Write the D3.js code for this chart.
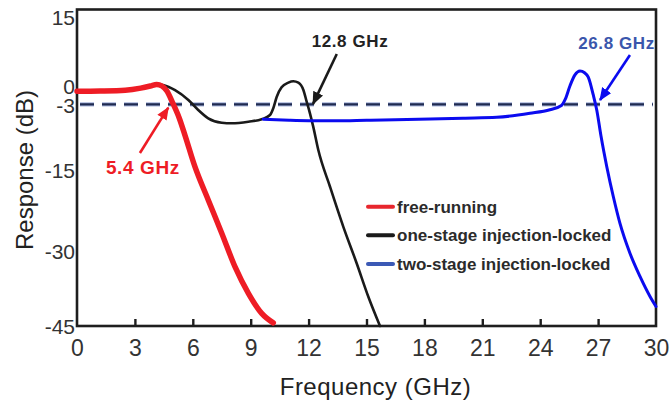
<!DOCTYPE html>
<html>
<head>
<meta charset="utf-8">
<script src="https://cdn.jsdelivr.net/npm/d3@7"></script>
<style>
  html, body { margin: 0; padding: 0; background: #fff; }
  svg { display: block; font-family: "Liberation Sans", Arial, sans-serif; }
</style>
</head>
<body>
<svg id="chart" width="671" height="403"></svg>
<script>
// ---- data ----
const freqTicks = [0, 3, 6, 9, 12, 15, 18, 21, 24, 27, 30];
const respTicks = [15, 0, -3, -15, -30, -45];
const seriesNames = ["free-running", "one-stage injection-locked", "two-stage injection-locked"];
const refLevel = -3;

// [frequency GHz, response dB]
const freeRunning = [
  [0, -0.5], [1.2, -0.45], [2.5, -0.3], [3.3, 0.1], [3.8, 0.5], [4.13, 0.8], [4.4, 0.5],
  [4.65, -0.4], [4.97, -2.8], [5.3, -5.6], [5.6, -8.9], [6.11, -14.8], [6.8, -21.1],
  [7.5, -27.4], [8.19, -33.8], [8.88, -38.8], [9.57, -42.6], [10.17, -44.4]
];
const oneStage = [
  [0, -0.5], [1.2, -0.45], [2.5, -0.3], [3.3, 0.1], [3.8, 0.5], [4.13, 0.8], [4.5, 0.65],
  [5.08, -0.3], [5.77, -2.16], [6.28, -4.05], [6.8, -5.63], [7.5, -6.46], [8.02, -6.57],
  [8.88, -6.27], [9.57, -5.8], [10.0, -5.0], [10.17, -3.73], [10.35, -1.53], [10.6, 0.25],
  [10.95, 1.13], [11.21, 1.39], [11.47, 1.13], [11.73, -0.26], [11.9, -2.48], [12.07, -4.68],
  [12.24, -7.2], [12.5, -11.6], [13.11, -18.6], [13.8, -26.2], [14.49, -33.1], [15.09, -39.4],
  [15.7, -45]
];
const twoStage = [
  [9.65, -5.82], [11, -6.0], [12, -6.08], [13.4, -6.1], [15, -6.0], [16.5, -5.9], [18.3, -5.76],
  [20, -5.6], [21.75, -5.44], [23.47, -4.68], [24.5, -4.0], [25.1, -3.2], [25.3, -2.0],
  [25.54, 0.5], [25.8, 2.6], [26.06, 3.34], [26.3, 3.0], [26.49, 2.2], [26.75, -1.2],
  [26.93, -4.05], [27.15, -9.0], [27.45, -14.8], [27.79, -20.5], [28.13, -25.5], [28.65, -31.2],
  [29.17, -35.6], [29.69, -39.4], [30, -41.3]
];
const annotationTexts = ["5.4 GHz", "12.8 GHz", "26.8 GHz"];

// ---- layout / style ----
const svg = d3.select("#chart");
const x = d3.scaleLinear().domain([0, 30]).range([77, 656]);
const y = d3.scaleLinear().domain([-45, 15]).range([326, 9.5]);
const colors = ["#ee1c25", "#1a1a1a", "#0b0bef"];
const legendColors = ["#e8262d", "#1a1a1a", "#3b59b5"];
const widths = [5.5, 2.6, 3];

// arrow markers
const defs = svg.append("defs");
const annColors = ["#ee1c25", "#1a1a1a", "#0b0bef"];
annColors.forEach((c, i) => {
  defs.append("marker")
    .attr("id", "arr" + i)
    .attr("viewBox", "0 0 12 10")
    .attr("refX", 11).attr("refY", 5)
    .attr("markerUnits", "userSpaceOnUse")
    .attr("markerWidth", 13).attr("markerHeight", 11)
    .attr("orient", "auto")
    .append("path").attr("d", "M0,0 L12,5 L0,10 Z").attr("fill", c);
});

// frame
svg.append("rect")
  .attr("x", x(0)).attr("y", y(15))
  .attr("width", x(30) - x(0)).attr("height", y(-45) - y(15))
  .attr("fill", "none").attr("stroke", "#1e1e1e").attr("stroke-width", 2.6);

// -3 dB reference dashed line
[["#a9b6dc", 4.2], ["#1f2a50", 2.2]].forEach(([c, w]) => {
  svg.append("line")
    .attr("x1", x(0) + 3).attr("x2", x(30) - 3)
    .attr("y1", y(refLevel)).attr("y2", y(refLevel))
    .attr("stroke", c).attr("stroke-width", w)
    .attr("stroke-dasharray", "14,8");
});

// curves
const line = d3.line().x(d => x(d[0])).y(d => y(d[1])).curve(d3.curveMonotoneX);
const order = [1, 2, 0];
const seriesData = [freeRunning, oneStage, twoStage];
order.forEach(i => {
  svg.append("path")
    .datum(seriesData[i])
    .attr("d", line)
    .attr("fill", "none")
    .attr("stroke", colors[i])
    .attr("stroke-width", widths[i])
    .attr("stroke-linejoin", "round")
    .attr("stroke-linecap", "round");
});

// axes
const xAxis = svg.append("g")
  .attr("transform", `translate(0,${y(-45)})`)
  .call(d3.axisBottom(x).tickValues(freqTicks).tickFormat(d => String(d))
    .tickSizeInner(-7).tickSizeOuter(0).tickPadding(14));
xAxis.select(".domain").remove();
xAxis.selectAll(".tick line").attr("stroke", "#1e1e1e").attr("stroke-width", 2.4)
  .filter(d => d === 0 || d === 30).remove();
xAxis.selectAll(".tick text")
  .attr("font-size", 23).attr("fill", "#333")
  .attr("font-family", "Liberation Sans, Arial, sans-serif");

const yLabelShift = { "15": 8, "0": -2, "-3": 0.5, "-15": 3, "-30": 4, "-45": 0 };
const yAxis = svg.append("g")
  .attr("transform", `translate(${x(0)},0)`)
  .call(d3.axisLeft(y).tickValues(respTicks).tickFormat(d => String(d)).tickSize(0).tickPadding(2));
yAxis.select(".domain").remove();
yAxis.selectAll(".tick text")
  .attr("font-size", 21).attr("fill", "#333")
  .attr("font-family", "Liberation Sans, Arial, sans-serif")
  .attr("dy", "0.34em")
  .attr("y", d => yLabelShift[String(d)] || 0);

// axis titles
svg.append("text")
  .attr("x", (x(0) + x(30)) / 2 + 9).attr("y", 395)
  .attr("text-anchor", "middle").attr("font-size", 24).attr("fill", "#222")
  .attr("letter-spacing", 0.5)
  .text("Frequency (GHz)");
svg.append("text")
  .attr("transform", `translate(33,170) rotate(-90)`)
  .attr("text-anchor", "middle").attr("font-size", 24).attr("fill", "#222")
  .text("Response (dB)");

// annotations (positions in data units)
const annotations = [
  { text: annotationTexts[0], tx: 1.5, ty: -16.24, size: 19, color: "#ee1c25", from: [3.26, -12.2], to: [4.73, -3.6] },
  { text: annotationTexts[1], tx: 12.16, ty: 7.95, size: 17, color: "#222", from: [13.46, 6.56], to: [12.23, -2.9] },
  { text: annotationTexts[2], tx: 25.97, ty: 7.45, size: 17, color: "#3a56ac", from: [28.65, 6.37], to: [27.1, -2.16] }
];
annotations.forEach((a, i) => {
  svg.append("text")
    .attr("x", x(a.tx)).attr("y", y(a.ty))
    .attr("font-size", a.size).attr("font-weight", "bold")
    .attr("letter-spacing", 0.6)
    .attr("fill", a.color)
    .text(a.text);
  svg.append("line")
    .attr("x1", x(a.from[0])).attr("y1", y(a.from[1]))
    .attr("x2", x(a.to[0])).attr("y2", y(a.to[1]))
    .attr("stroke", annColors[i]).attr("stroke-width", 2.6)
    .attr("marker-end", `url(#arr${i})`);
});

// legend
const legend = svg.append("g").attr("transform", "translate(368,206.7)");
seriesNames.forEach((name, i) => {
  const g = legend.append("g").attr("transform", `translate(0,${i * 28.6})`);
  g.append("line").attr("x1", 0).attr("x2", 25).attr("y1", 0).attr("y2", 0)
    .attr("stroke", legendColors[i]).attr("stroke-width", 4).attr("stroke-linecap", "round");
  g.append("text").attr("x", 29).attr("y", 6)
    .attr("font-size", 17).attr("font-weight", "bold").attr("fill", "#2b2b2b")
    .text(name);
});
</script>
</body>
</html>
